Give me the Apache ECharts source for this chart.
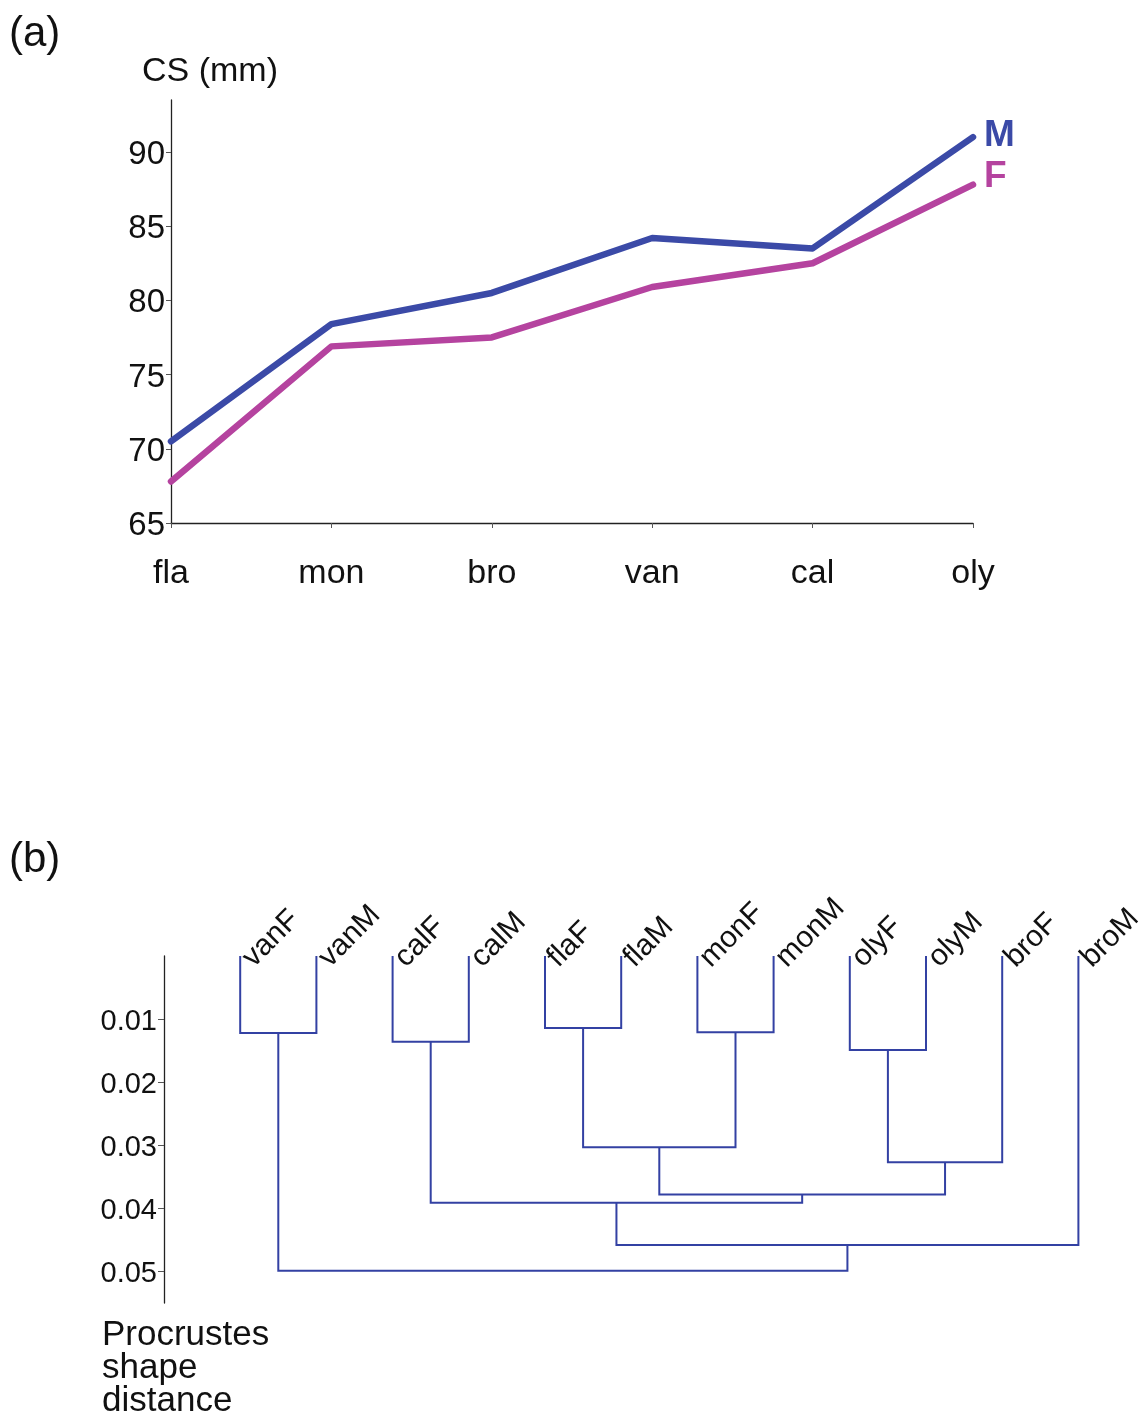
<!DOCTYPE html>
<html>
<head>
<meta charset="utf-8">
<script src="https://cdn.jsdelivr.net/npm/echarts@6/dist/echarts.min.js"></script>
<style>
  html, body { margin: 0; padding: 0; background: #fff; }
  #chart { width: 1145px; height: 1416px; }
</style>
</head>
<body>
<div id="chart"></div>
<script>
// (a) centroid size by site, males and females
const sites = ['fla', 'mon', 'bro', 'van', 'cal', 'oly'];
const csMale = [70.5, 78.4, 80.5, 84.2, 83.5, 91.0];
const csFemale = [67.8, 76.9, 77.5, 80.9, 82.5, 87.8];
const csTicks = [65, 70, 75, 80, 85, 90];

// (b) UPGMA tree on Procrustes shape distance
const leaves = ['vanF', 'vanM', 'calF', 'calM', 'flaF', 'flaM', 'monF', 'monM', 'olyF', 'olyM', 'broF', 'broM'];
// nodes 0-11 are the leaves; merge k creates node 12 + k
const mergeLeft = [0, 2, 4, 6, 8, 14, 16, 17, 13, 20, 12];
const mergeRight = [1, 3, 5, 7, 9, 15, 10, 18, 19, 11, 21];
const mergeHeight = [0.0122, 0.0136, 0.0114, 0.0121, 0.0149, 0.0303, 0.0327, 0.0378, 0.0391, 0.0458, 0.0499];
const distTicks = [0.01, 0.02, 0.03, 0.04, 0.05];

const FONT = '"Liberation Sans", Arial, Helvetica, sans-serif';
const BLUE = '#3b4aa7';
const MAGENTA = '#b5439f';
const TREE = '#3341a3';

// node positions: leaves sit at their index, a merge sits midway between its children
const nodeX = leaves.map((_, i) => i);
const nodeH = leaves.map(() => 0);
mergeHeight.forEach((h, k) => {
  nodeX.push((nodeX[mergeLeft[k]] + nodeX[mergeRight[k]]) / 2);
  nodeH.push(h);
});
const branchData = mergeHeight.map((h, k) => [
  nodeX[mergeLeft[k]], nodeH[mergeLeft[k]],
  nodeX[mergeRight[k]], nodeH[mergeRight[k]], h
]);
const leafData = leaves.map((name, i) => [i, 0]);

const chart = echarts.init(document.getElementById('chart'), null, { renderer: 'canvas' });

const option = {
  backgroundColor: '#fff',
  animation: false,
  textStyle: { fontFamily: FONT },
  graphic: [
    { type: 'text', x: 9, y: 34, style: { text: '(a)', fontSize: 42, fontFamily: FONT, fill: '#111', align: 'left', verticalAlign: 'middle' } },
    { type: 'text', x: 142, y: 72, style: { text: 'CS (mm)', fontSize: 34, fontFamily: FONT, fill: '#111', align: 'left', verticalAlign: 'middle' } },
    { type: 'text', x: 9, y: 860, style: { text: '(b)', fontSize: 42, fontFamily: FONT, fill: '#111', align: 'left', verticalAlign: 'middle' } },
    { type: 'text', x: 102, y: 1335, style: { text: 'Procrustes', fontSize: 35, fontFamily: FONT, fill: '#111', align: 'left', verticalAlign: 'middle' } },
    { type: 'text', x: 102, y: 1368, style: { text: 'shape', fontSize: 35, fontFamily: FONT, fill: '#111', align: 'left', verticalAlign: 'middle' } },
    { type: 'text', x: 102, y: 1401, style: { text: 'distance', fontSize: 35, fontFamily: FONT, fill: '#111', align: 'left', verticalAlign: 'middle' } }
  ],
  grid: [
    { left: 171, right: 172, top: 100, bottom: 893, containLabel: false },
    { left: 164, right: 28.5, top: 956, bottom: 113, containLabel: false }
  ],
  xAxis: [
    {
      gridIndex: 0,
      type: 'category',
      data: sites,
      boundaryGap: false,
      axisLine: { show: true, lineStyle: { color: '#222', width: 1.3 } },
      axisTick: { show: true, length: 5, lineStyle: { color: '#555' } },
      axisLabel: { fontSize: 34, color: '#111', margin: 34, fontFamily: FONT },
      splitLine: { show: false }
    },
    {
      gridIndex: 1,
      type: 'value',
      min: -1,
      max: 11.5,
      show: false
    }
  ],
  yAxis: [
    {
      gridIndex: 0,
      type: 'value',
      min: 65,
      max: 93.5,
      axisLine: { show: true, onZero: false, lineStyle: { color: '#222', width: 1.3 } },
      axisTick: { show: true, length: 5, customValues: csTicks, lineStyle: { color: '#555' } },
      axisLabel: {
        customValues: csTicks, fontSize: 33, color: '#111', margin: 6, fontFamily: FONT,
        verticalAlign: 'top', lineHeight: 6
      },
      splitLine: { show: false }
    },
    {
      gridIndex: 1,
      type: 'value',
      inverse: true,
      min: 0,
      max: 0.055,
      axisLine: { show: true, onZero: false, lineStyle: { color: '#222', width: 1.3 } },
      axisTick: { show: true, length: 6, customValues: distTicks, lineStyle: { color: '#555' } },
      axisLabel: {
        customValues: distTicks, fontSize: 29, color: '#111', margin: 7, fontFamily: FONT,
        verticalAlign: 'top', lineHeight: 6,
        formatter: v => Number(v).toFixed(2)
      },
      splitLine: { show: false }
    }
  ],
  series: [
    {
      name: 'M',
      type: 'line',
      xAxisIndex: 0, yAxisIndex: 0,
      data: csMale,
      showSymbol: false,
      lineStyle: { color: BLUE, width: 6.5, cap: 'round', join: 'round' },
      itemStyle: { color: BLUE },
      endLabel: {
        show: true, formatter: 'M', color: BLUE, fontSize: 37, fontWeight: 'bold',
        fontFamily: FONT, distance: 11, offset: [0, -1]
      },
      z: 3
    },
    {
      name: 'F',
      type: 'line',
      xAxisIndex: 0, yAxisIndex: 0,
      data: csFemale,
      showSymbol: false,
      lineStyle: { color: MAGENTA, width: 6.5, cap: 'round', join: 'round' },
      itemStyle: { color: MAGENTA },
      endLabel: {
        show: true, formatter: 'F', color: MAGENTA, fontSize: 37, fontWeight: 'bold',
        fontFamily: FONT, distance: 11, offset: [0, -8]
      },
      z: 2
    },
    {
      name: 'branches',
      type: 'custom',
      xAxisIndex: 1, yAxisIndex: 1,
      data: branchData,
      encode: { x: [0, 2], y: [1, 3, 4] },
      clip: false,
      renderItem: (params, api) => {
        const xl = api.value(0), hl = api.value(1), xr = api.value(2), hr = api.value(3), h = api.value(4);
        return {
          type: 'polyline',
          shape: { points: [api.coord([xl, hl]), api.coord([xl, h]), api.coord([xr, h]), api.coord([xr, hr])] },
          style: { stroke: TREE, lineWidth: 2, fill: null }
        };
      }
    },
    {
      name: 'leaf labels',
      type: 'custom',
      xAxisIndex: 1, yAxisIndex: 1,
      data: leafData,
      encode: { x: 0, y: 1 },
      clip: false,
      renderItem: (params, api) => {
        const p = api.coord([api.value(0), api.value(1)]);
        return {
          type: 'text',
          x: p[0] + 18,
          y: p[1] + 17,
          rotation: Math.PI / 4,
          style: {
            text: leaves[params.dataIndex], fontSize: 30, fontFamily: FONT, fill: '#111',
            align: 'left', verticalAlign: 'bottom'
          }
        };
      }
    }
  ]
};

chart.setOption(option);
</script>
</body>
</html>
